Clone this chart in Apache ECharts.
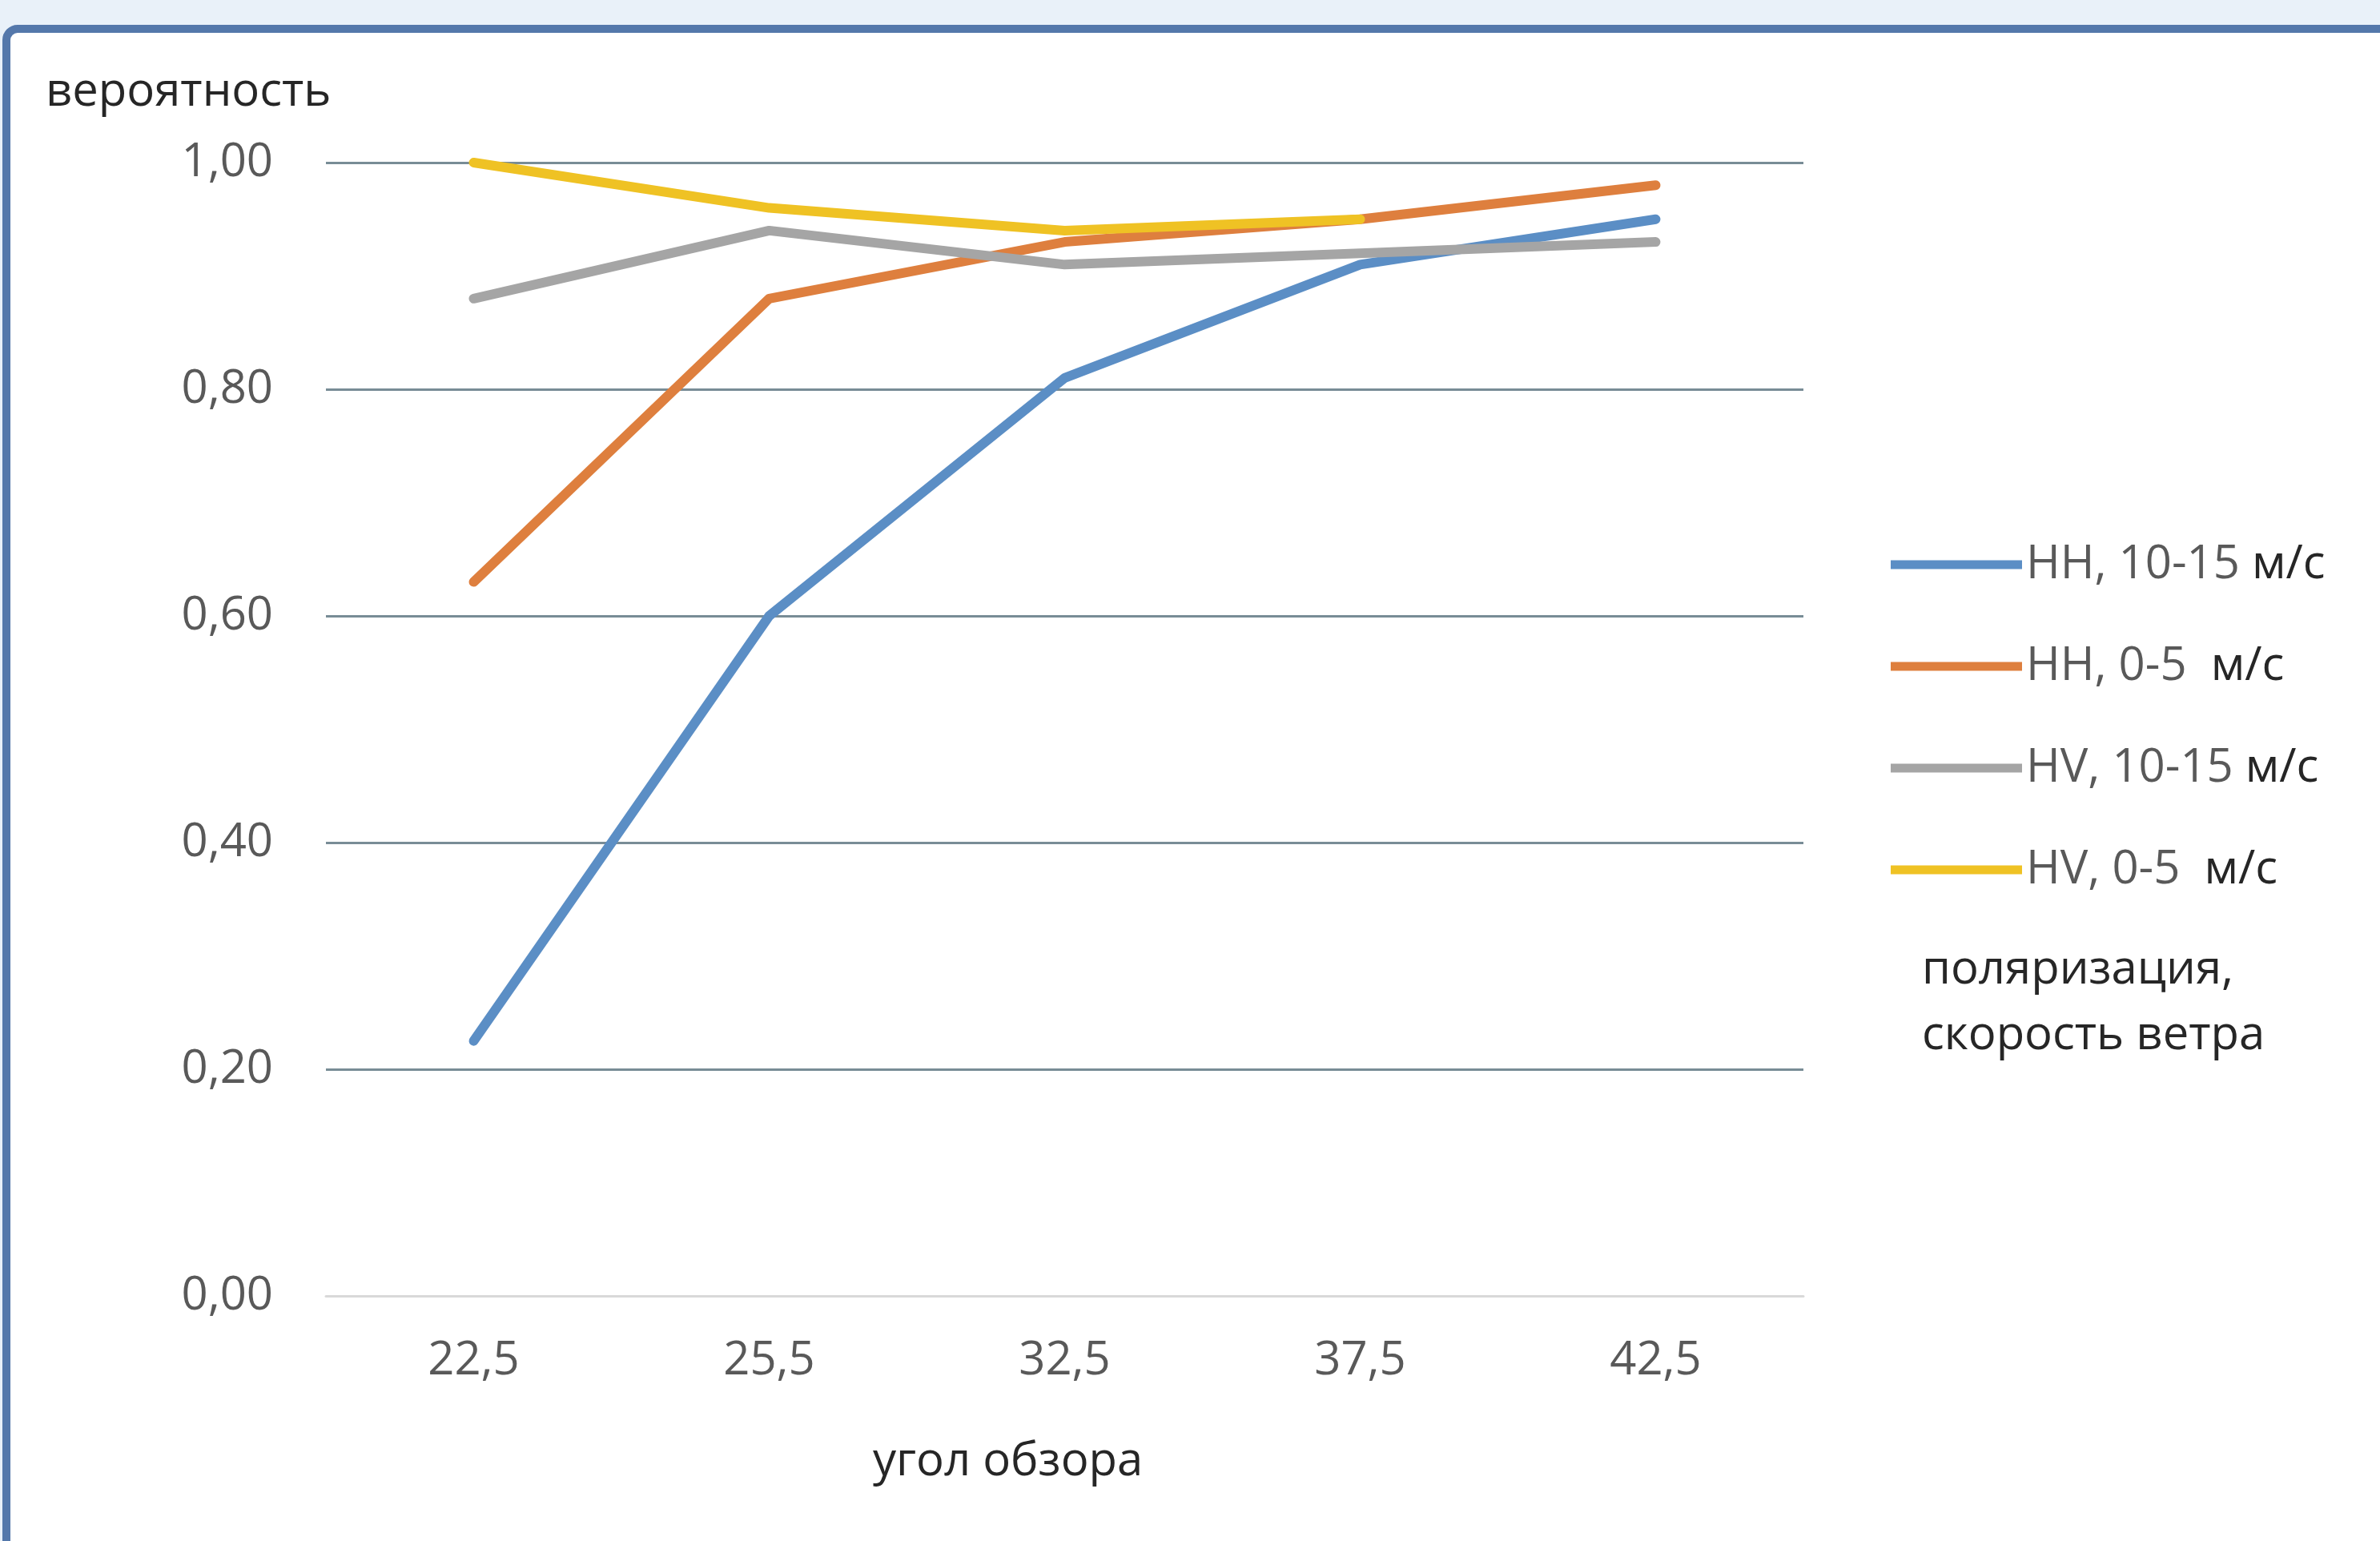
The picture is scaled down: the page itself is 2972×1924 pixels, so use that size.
<!DOCTYPE html>
<html>
<head>
<meta charset="utf-8">
<script src="https://cdn.jsdelivr.net/npm/echarts@6/dist/echarts.min.js"></script>
<style>
html,body{margin:0;padding:0;background:#e9f1f9;}
#c{width:2972px;height:1924px;}
</style>
</head>
<body>
<div id="c"></div>
<script>
const categories = ['22,5', '25,5', '32,5', '37,5', '42,5'];
const hh1015 = [0.225, 0.60, 0.81, 0.91, 0.95];
const hh05 = [0.63, 0.88, 0.93, 0.95, 0.98];
const hv1015 = [0.88, 0.94, 0.91, 0.92, 0.93];
const hv05 = [1.00, 0.96, 0.94, 0.95, null];
const seriesNames = ['HH, 10-15 м/с', 'HH, 0-5  м/с', 'HV, 10-15 м/с', 'HV, 0-5  м/с'];
const seriesColors = ['#5b8ec5', '#de7f3e', '#a5a5a5', '#efc224'];
const yAxisTitle = 'вероятность';
const xAxisTitle = 'угол обзора';
const legendTitle = ['поляризация,', 'скорость ветра'];

const FONT = '"Open Sans", "Noto Sans", sans-serif';
const chart = echarts.init(document.getElementById('c'), null, {renderer: 'canvas'});

function mkSeries(i, data) {
  return {
    name: seriesNames[i], type: 'line', data: data,
    showSymbol: false, symbol: 'none',
    lineStyle: {color: seriesColors[i], width: 12, cap: 'round', join: 'round'},
    itemStyle: {color: seriesColors[i]},
    connectNulls: false
  };
}

chart.setOption({
  animation: false,
  backgroundColor: '#e9f1f9',
  textStyle: {fontFamily: FONT},
  graphic: [
    {type: 'rect', z: -10, shape: {x: 8, y: 36, width: 3100, height: 2100, r: 14},
     style: {fill: '#ffffff', stroke: '#5478ab', lineWidth: 10}},
    {type: 'text', left: 57, top: 86, style: {text: yAxisTitle, font: '58px ' + FONT, fill: '#262626'}},
    {type: 'text', left: 1090, top: 1796, style: {text: xAxisTitle, font: '58px ' + FONT, fill: '#262626'}},
    {type: 'text', left: 2400, top: 1182, style: {text: legendTitle[0], font: '58px ' + FONT, fill: '#262626'}},
    {type: 'text', left: 2400, top: 1264, style: {text: legendTitle[1], font: '58px ' + FONT, fill: '#262626'}}
  ],
  grid: {left: 407, right: 2972 - 2252, top: 203, bottom: 1924 - 1618, containLabel: false},
  legend: {
    orient: 'vertical', left: 2356, top: 670,
    icon: 'rect', itemWidth: 164, itemHeight: 11, itemGap: 67,
    data: seriesNames,
    formatter: function (n) {
      const idx = n.indexOf('м/с');
      return '{a|' + n.slice(0, idx) + '}{b|м/с}';
    },
    textStyle: {
      fontFamily: FONT, fontSize: 58, color: '#595959', lineHeight: 60,
      rich: {
        a: {fontFamily: FONT, fontSize: 58, color: '#595959', lineHeight: 60},
        b: {fontFamily: FONT, fontSize: 58, color: '#262626', lineHeight: 60, fontWeight: 500}
      }
    }
  },
  xAxis: {
    type: 'category', data: categories, boundaryGap: true,
    axisLine: {show: true, lineStyle: {color: '#d9d9d9', width: 3}},
    axisTick: {show: false},
    axisLabel: {color: '#595959', fontSize: 58, fontFamily: FONT, margin: 52}
  },
  yAxis: {
    type: 'value', min: 0, max: 1, interval: 0.2,
    axisLine: {show: false}, axisTick: {show: false},
    axisLabel: {color: '#595959', fontSize: 58, fontFamily: FONT, margin: 66,
      formatter: v => v.toFixed(2).replace('.', ',')},
    splitLine: {show: true, lineStyle: {color: '#788c96', width: 3}}
  },
  series: [mkSeries(0, hh1015), mkSeries(1, hh05), mkSeries(2, hv1015), mkSeries(3, hv05)]
});
</script>
</body>
</html>
